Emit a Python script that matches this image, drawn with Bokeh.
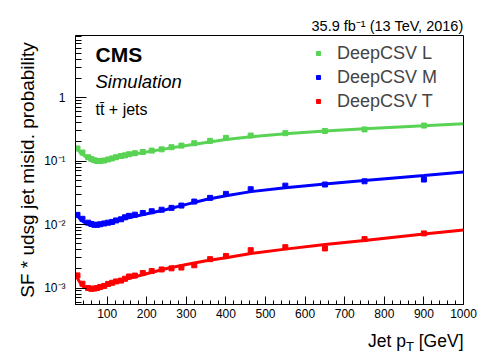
from bokeh.plotting import figure
from bokeh.layouts import column
from bokeh.models import Range1d, FixedTicker, Label, Legend, LegendItem
from bokeh.embed import file_html
from bokeh.resources import INLINE
from bokeh.core.validation import silence
from bokeh.core.validation.warnings import MISSING_RENDERERS

silence(MISSING_RENDERERS, True)

# ---- data ----
pt = [25, 37.5, 52, 60, 67.5, 75, 82.5, 92.5, 102.5, 112.5, 122.5, 135, 145, 155,
      170, 190, 212.5, 237.5, 262.5, 287.5, 320, 360, 400, 462.5, 550, 650, 750, 900]
eff_L = [0.158, 0.136, 0.115, 0.108, 0.103, 0.100, 0.100, 0.102, 0.106, 0.110, 0.115,
         0.120, 0.123, 0.128, 0.133, 0.139, 0.146, 0.153, 0.165, 0.175, 0.191, 0.208,
         0.232, 0.252, 0.275, 0.298, 0.315, 0.362]
eff_M = [0.0142, 0.0123, 0.0107, 0.0102, 0.0099, 0.0099, 0.0101, 0.0104, 0.0107, 0.0110,
         0.0116, 0.0121, 0.0130, 0.0137, 0.0143, 0.0152, 0.0162, 0.0171, 0.0183, 0.0199,
         0.0230, 0.0263, 0.0304, 0.0360, 0.0410, 0.0427, 0.0480, 0.0511]
eff_T = [0.00158, 0.00117, 0.00100, 0.00097, 0.00098, 0.00100, 0.00104, 0.00108,
         0.00116, 0.00121, 0.00127, 0.00131, 0.00140, 0.00152, 0.00157, 0.00172,
         0.00185, 0.00196, 0.00204, 0.00210, 0.00228, 0.00285, 0.00320, 0.00395,
         0.00440, 0.00420, 0.00590, 0.00725]

fit_pt = [20, 30, 40, 50, 60, 75, 90, 110, 140, 180, 250, 300, 350, 400, 463, 550,
          650, 750, 900, 1000]
fit_L = [0.160, 0.141, 0.124, 0.112, 0.105, 0.100, 0.100, 0.106, 0.118, 0.133, 0.157,
         0.176, 0.196, 0.218, 0.241, 0.270, 0.298, 0.322, 0.360, 0.388]
fit_M = [0.0148, 0.0125, 0.0110, 0.0103, 0.0100, 0.0099, 0.0101, 0.0108, 0.0122, 0.0139,
         0.0173, 0.0208, 0.0248, 0.0285, 0.0330, 0.0380, 0.0436, 0.0494, 0.0590, 0.0670]
fit_T = [0.00163, 0.00125, 0.00105, 0.00098, 0.00096, 0.00099, 0.00106, 0.00117,
         0.00134, 0.00156, 0.00203, 0.00235, 0.00268, 0.00300, 0.00350, 0.00410,
         0.00485, 0.00560, 0.00710, 0.00820]

labels = ["DeepCSV L", "DeepCSV M", "DeepCSV T"]
colors = ["#59d354", "#0000ff", "#ff0000"]
lumi_text = "35.9 fb\u207b\u00b9 (13 TeV, 2016)"

x_major = [100, 200, 300, 400, 500, 600, 700, 800, 900, 1000]
x_minor = [v for v in range(20, 1001, 20) if v % 100 != 0]
y_major = [0.001, 0.01, 0.1, 1]
y_labels = {0.001: "10\u207b\u00b3", 0.01: "10\u207b\u00b2", 0.1: "10\u207b\u00b9", 1: "1"}
y_minor = [m * 10.0 ** e for e in range(-4, 1) for m in range(2, 10)]

FONT = "Liberation Sans"
W = 498
BL, BR = 75, 35          # frame borders (left / right)
FW = W - BL - BR         # frame width

# ---------------- main plot ----------------
p = figure(width=W, height=324, output_backend="svg", toolbar_location=None,
           x_range=Range1d(20, 1000), y_range=Range1d(5.5e-4, 9.5),
           y_axis_type="log", min_border_left=BL, min_border_right=BR,
           min_border_top=35, min_border_bottom=20, title=lumi_text)
p.background_fill_color = "white"
p.border_fill_color = "white"
p.outline_line_color = "black"
p.outline_line_width = 1
p.xgrid.visible = False
p.ygrid.visible = False

p.title.align = "right"
p.title.text_font = FONT
p.title.text_font_size = "14.5px"
p.title.text_font_style = "normal"
p.title.text_color = "black"
p.title.standoff = 3

for ax in (p.xaxis[0], p.yaxis[0]):
    ax.axis_line_color = "black"
    ax.major_tick_line_color = "black"
    ax.minor_tick_line_color = "black"
    ax.major_tick_out = 0
    ax.minor_tick_out = 0
    ax.major_label_text_font = FONT
    ax.major_label_text_font_size = "12px"
    ax.major_label_text_color = "black"

p.xaxis.ticker = FixedTicker(ticks=x_major, minor_ticks=x_minor)
p.xaxis.major_tick_in = 8
p.xaxis.minor_tick_in = 4
p.xaxis.major_label_standoff = 4

p.yaxis.ticker = FixedTicker(ticks=y_major, minor_ticks=y_minor)
p.yaxis.major_label_overrides = y_labels
p.yaxis.major_tick_in = 11
p.yaxis.minor_tick_in = 6
p.yaxis.major_label_standoff = 10
p.yaxis.axis_label = "SF * udsg jet misid. probability"
p.yaxis.axis_label_text_font = FONT
p.yaxis.axis_label_text_font_size = "19px"
p.yaxis.axis_label_text_font_style = "normal"
p.yaxis.axis_label_text_color = "black"
p.yaxis.axis_label_standoff = 3

items = []
for effs, fits, col, lab in zip([eff_L, eff_M, eff_T], [fit_L, fit_M, fit_T], colors, labels):
    r = p.scatter(pt, effs, marker="square", size=5, color=col)
    p.line(fit_pt, fits, line_color=col, line_width=3)
    items.append(LegendItem(label=lab, renderers=[r]))

leg = Legend(items=items, location=(238, 191), padding=0, margin=0, spacing=0,
             glyph_width=10, glyph_height=24, label_height=24, label_standoff=14,
             label_text_font=FONT, label_text_font_size="18px",
             label_text_baseline="middle", border_line_color=None,
             background_fill_alpha=0)
p.add_layout(leg)


def add_label(fig, x, y, text, size, style="normal", align="left", baseline="middle"):
    fig.add_layout(Label(x=x, y=y, x_units="screen", y_units="screen", text=text,
                         text_font=FONT, text_font_size=size, text_font_style=style,
                         text_align=align, text_baseline=baseline, text_color="black"))


add_label(p, 20, 250, "CMS", "21px", style="bold")
add_label(p, 20, 223, "Simulation", "18.5px", style="italic")
add_label(p, 20, 195, "tt\u0304 + jets", "16px")

# ---------------- bottom strip: x-axis title ----------------
bot = figure(width=W, height=31, output_backend="svg", toolbar_location=None,
             x_range=Range1d(0, FW), y_range=Range1d(0, 31),
             x_axis_location=None, y_axis_location=None,
             min_border_left=BL, min_border_right=BR,
             min_border_top=0, min_border_bottom=0)
bot.outline_line_color = None
bot.xgrid.visible = False
bot.ygrid.visible = False
bot.background_fill_color = "white"
bot.border_fill_color = "white"

add_label(bot, FW, 15, "[GeV]", "17.5px", align="right", baseline="alphabetic")
add_label(bot, FW - 49.6, 9, "T", "13px", align="right", baseline="alphabetic")
add_label(bot, FW - 49.6 - 7.9, 15, "Jet p", "17.5px", align="right", baseline="alphabetic")

layout = column(p, bot, spacing=0)
open("out.html", "w").write(file_html(layout, INLINE))
